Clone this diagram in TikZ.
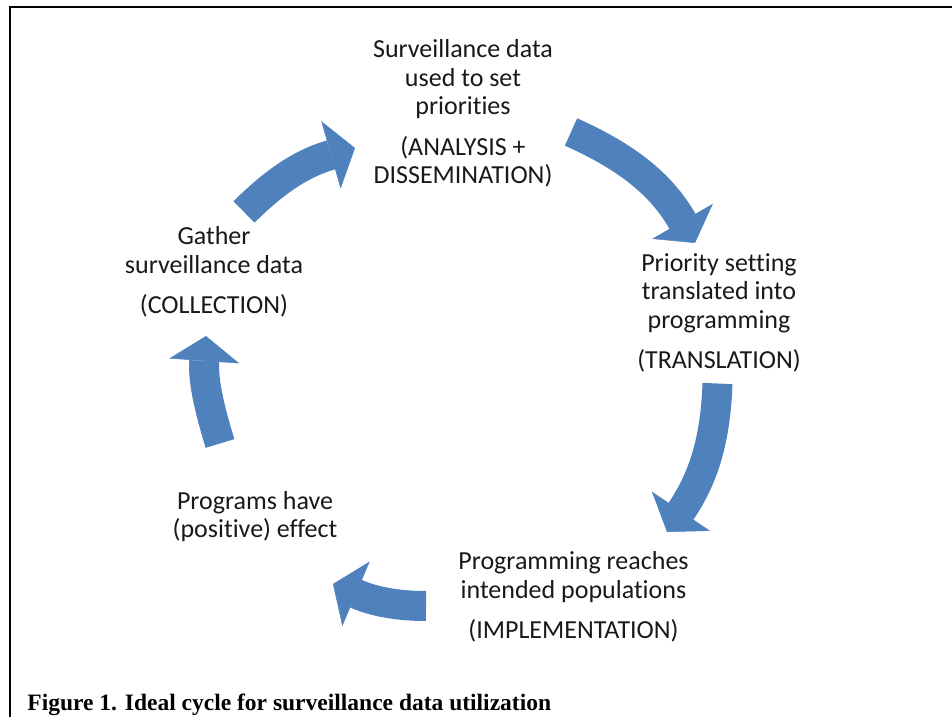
\documentclass[tikz,border=0pt]{standalone}
\usepackage{fontspec}
\setmainfont{Carlito}[RawFeature=-liga]
\newfontfamily\capfont{Liberation Serif}
\usepackage{tikz}
\usetikzlibrary{arrows.meta,positioning}
\definecolor{cycblue}{RGB}{79,129,189}

\begin{document}
\begin{tikzpicture}[x=1pt,y=1pt,>=stealth,thick]
	\tikzstyle{stage}=[align=center,inner sep=0pt,anchor=base,
	text=black!90,
	font=\fontsize{26}{28.5}\selectfont
	]
	\tikzstyle{cyc}=[draw=cycblue,line width=30pt,
	-{Triangle[length=25pt,width=70pt,line width=0.5pt]}];
\useasboundingbox (0,0) rectangle (952,717);
\draw[line width=2.5pt] (10,0) |- (952,710);

\node[stage](ana) at (463,533){Surveillance data\\used to set\\priorities\\[12pt](ANALYSIS +\\DISSEMINATION)};
\node[stage](trans) at (719,348){Priority setting\\translated into\\programming\\[12pt](TRANSLATION)};
\node[stage](impl) at (573.5,78){Programming reaches\\intended populations\\[12pt](IMPLEMENTATION)};
\node[stage](eff) at (255,179){Programs have\\(positive) effect};
\node[stage](coll) at (214,403){Gather\\surveillance data\\[12pt](COLLECTION)};

\node[anchor=base west,inner sep=0pt](cap) at (27,7){\capfont\bfseries\fontsize{23.5}{28}\selectfont Figure 1. Ideal cycle for surveillance data utilization};

%arrow ends
\coordinate (coll-out) at (244,505);
\coordinate (ana-in) at (355,569);
\coordinate (ana-out) at (571,585);
\coordinate (trans-in) at (695,474);
\coordinate (trans-out) at (717.5,333.5);
\coordinate (impl-in) at (667,185);
\coordinate (impl-out) at (426,111);
\coordinate (eff-in) at (333,133);
\coordinate (eff-out) at (220,273.5);
\coordinate (coll-in) at (206,381);

\draw [cyc] (coll-out) to[out=45,in=196] (ana-in);
\draw [cyc] (ana-out) to[out=-24,in=120] (trans-in);
\draw [cyc] (trans-out) to[out=-92,in=56] (impl-in);
\draw [cyc] (impl-out) to[out=180,in=-23] (eff-in);
\draw [cyc] (eff-out) to[out=107,in=266] (coll-in);

\end{tikzpicture}
\end{document}
